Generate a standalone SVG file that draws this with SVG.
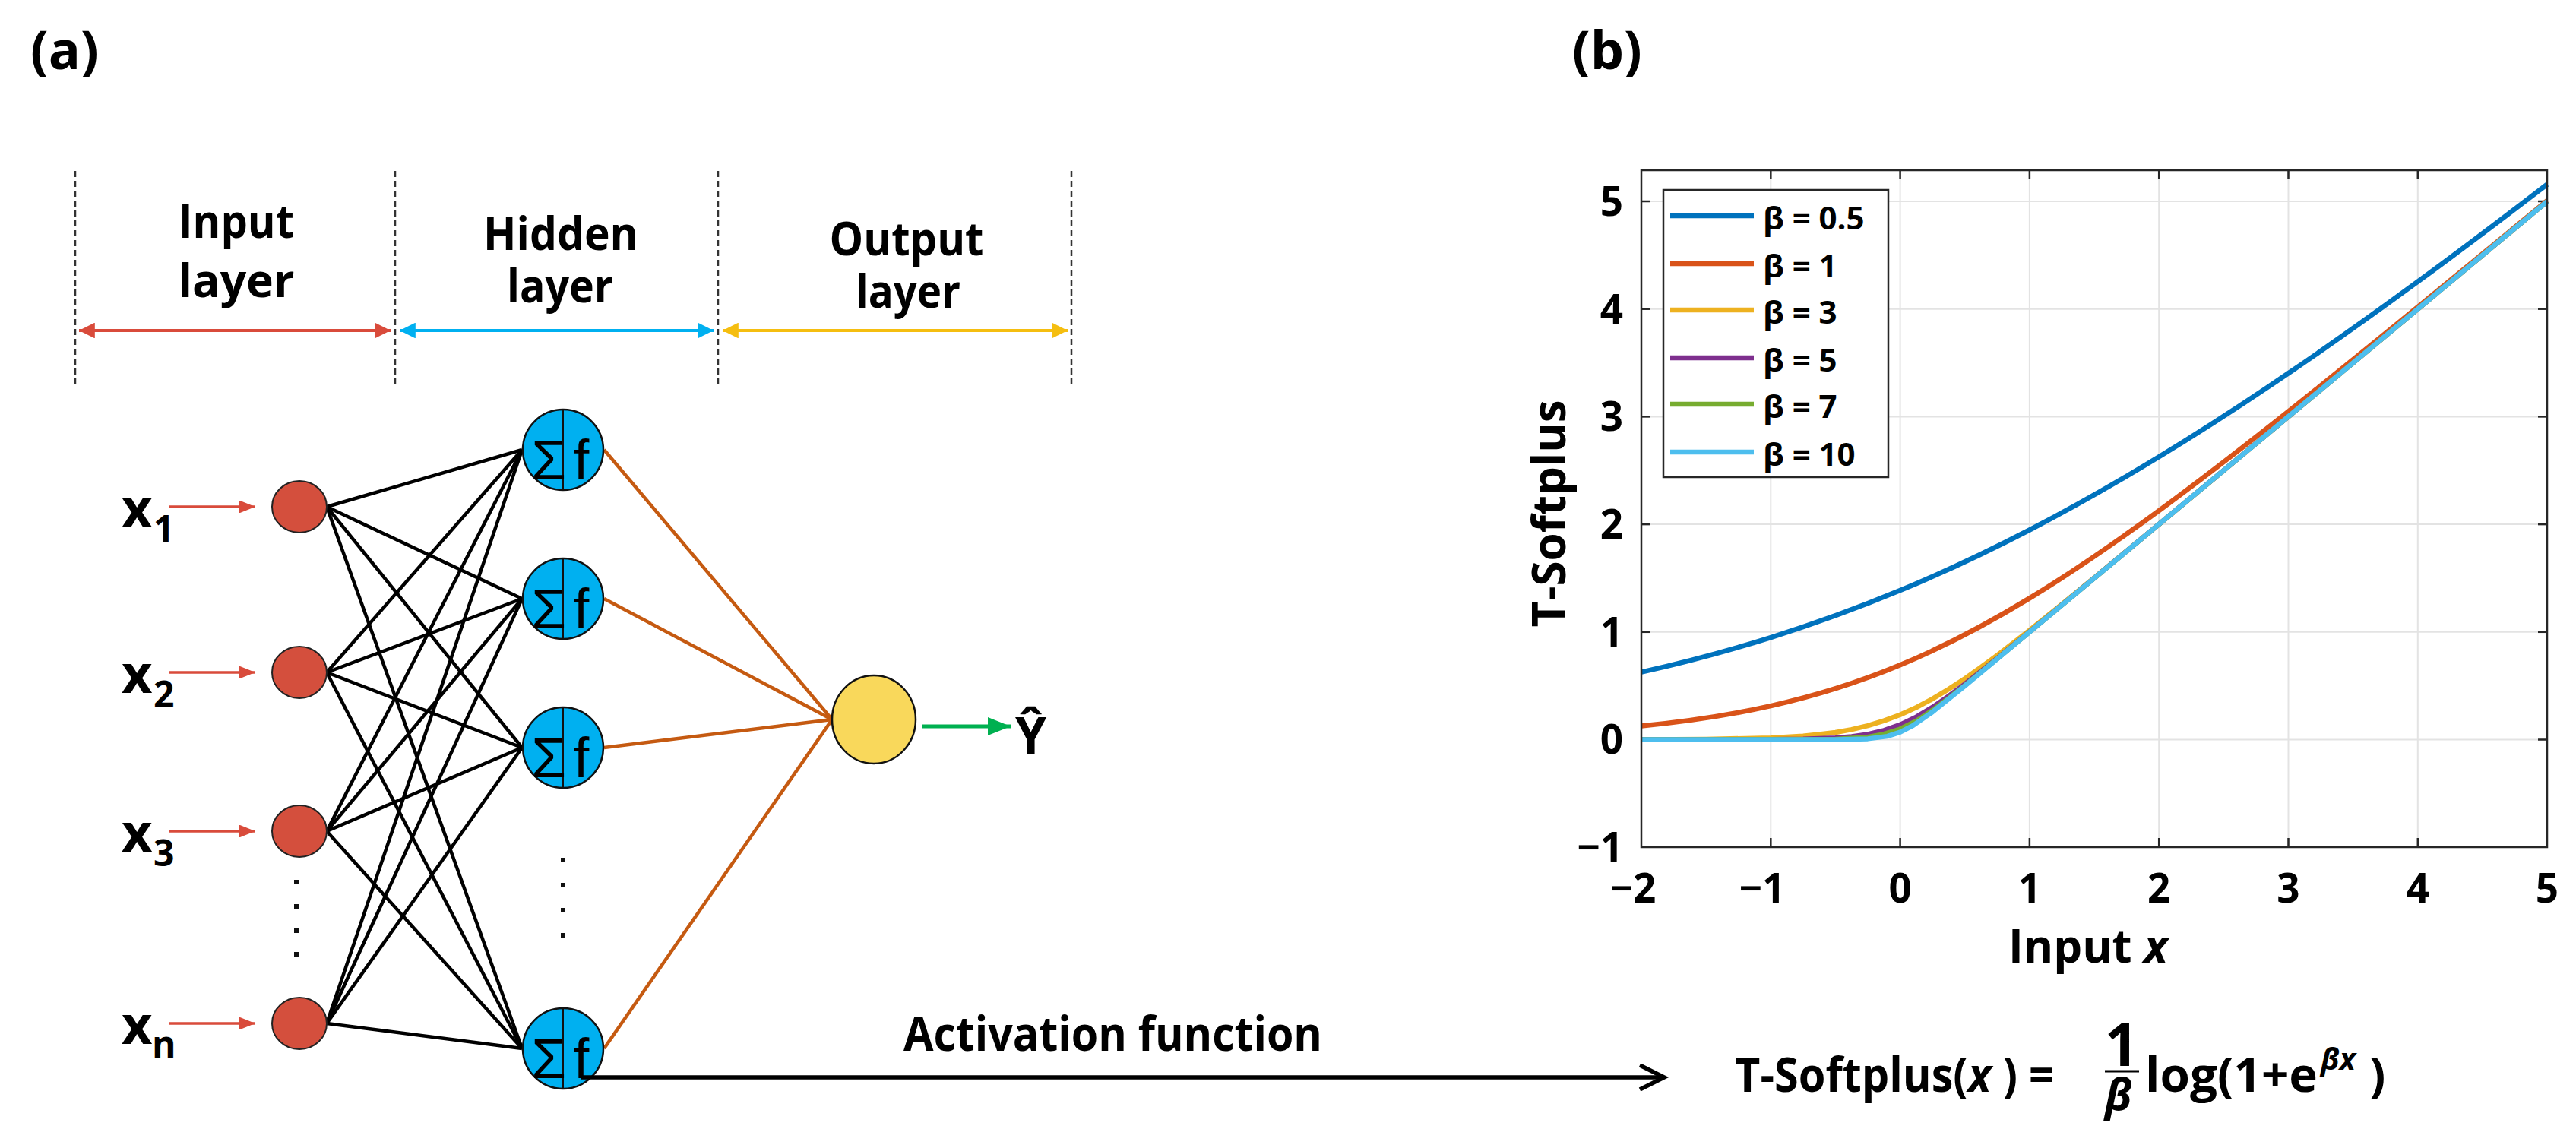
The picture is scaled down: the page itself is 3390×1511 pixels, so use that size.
<svg xmlns="http://www.w3.org/2000/svg" width="3390" height="1511" viewBox="0 0 3390 1511">
<style>
.b{font-family:"Open Sans","Noto Sans","DejaVu Sans",sans-serif;font-weight:bold;fill:#000}
.sym{font-family:"Liberation Sans",Arial,sans-serif;font-weight:normal;fill:#000}
.dash{stroke:#333;stroke-width:2.5;stroke-dasharray:8 5;fill:none}
.w{stroke:#000;stroke-width:4.5;fill:none}
.o{stroke:#C55A11;stroke-width:4.5;fill:none}
.inp{fill:#D44F3D;stroke:#222;stroke-width:2}
.hid{fill:#00B0F0;stroke:#111;stroke-width:2.5}
.grid{stroke:#e3e3e3;stroke-width:2;fill:none}
.ax{stroke:#262626;stroke-width:2.5;fill:none}
.tk{stroke:#262626;stroke-width:2.5}
.c{fill:none;stroke-width:6.5;stroke-linejoin:round;stroke-linecap:butt}
.tl{font-size:53px}
.lg{font-size:42px}
</style>
<defs>
<marker id="ar" viewBox="0 0 20 20" refX="20" refY="10" markerWidth="5.2" markerHeight="5.2" orient="auto-start-reverse" markerUnits="strokeWidth"><path d="M0,0 L20,10 L0,20 Z" fill="context-stroke"/></marker>
<marker id="as" viewBox="0 0 20 16" refX="20" refY="8" markerWidth="6" markerHeight="4.8" orient="auto" markerUnits="strokeWidth"><path d="M0,0 L20,8 L0,16 Z" fill="context-stroke"/></marker>
</defs>
<rect width="3390" height="1511" fill="#fff"/>

<!-- panel labels -->
<text class="b" x="40" y="91" font-size="70">(a)</text>
<text class="b" x="2069" y="91" font-size="70">(b)</text>

<!-- layer headers -->
<g id="layer-guides">
<line class="dash" x1="99" y1="225" x2="99" y2="506"/>
<line class="dash" x1="520" y1="225" x2="520" y2="506"/>
<line class="dash" x1="945" y1="225" x2="945" y2="506"/>
<line class="dash" x1="1410" y1="225" x2="1410" y2="506"/>
<line x1="104" y1="435" x2="514" y2="435" stroke="#D94B3B" stroke-width="4" marker-start="url(#ar)" marker-end="url(#ar)"/>
<line x1="526" y1="435" x2="939" y2="435" stroke="#00B0F0" stroke-width="4" marker-start="url(#ar)" marker-end="url(#ar)"/>
<line x1="951" y1="435" x2="1405" y2="435" stroke="#F5BE10" stroke-width="4" marker-start="url(#ar)" marker-end="url(#ar)"/>
<text class="b" font-size="60" text-anchor="middle"><tspan x="311" y="313" textLength="152" lengthAdjust="spacingAndGlyphs">Input</tspan><tspan x="311" y="391" textLength="153" lengthAdjust="spacingAndGlyphs">layer</tspan></text>
<text class="b" font-size="60" text-anchor="middle"><tspan x="738" y="329" textLength="204" lengthAdjust="spacingAndGlyphs">Hidden</tspan><tspan x="737" y="398" textLength="140" lengthAdjust="spacingAndGlyphs">layer</tspan></text>
<text class="b" font-size="60" text-anchor="middle"><tspan x="1193" y="336" textLength="203" lengthAdjust="spacingAndGlyphs">Output</tspan><tspan x="1195" y="405" textLength="138" lengthAdjust="spacingAndGlyphs">layer</tspan></text>
</g>

<!-- connectors -->
<g id="connectors">
<line class="w" x1="430" y1="667" x2="687" y2="592"/>
<line class="w" x1="430" y1="667" x2="687" y2="788"/>
<line class="w" x1="430" y1="667" x2="687" y2="984"/>
<line class="w" x1="430" y1="667" x2="687" y2="1380"/>
<line class="w" x1="430" y1="885" x2="687" y2="592"/>
<line class="w" x1="430" y1="885" x2="687" y2="788"/>
<line class="w" x1="430" y1="885" x2="687" y2="984"/>
<line class="w" x1="430" y1="885" x2="687" y2="1380"/>
<line class="w" x1="430" y1="1094" x2="687" y2="592"/>
<line class="w" x1="430" y1="1094" x2="687" y2="788"/>
<line class="w" x1="430" y1="1094" x2="687" y2="984"/>
<line class="w" x1="430" y1="1094" x2="687" y2="1380"/>
<line class="w" x1="430" y1="1347" x2="687" y2="592"/>
<line class="w" x1="430" y1="1347" x2="687" y2="788"/>
<line class="w" x1="430" y1="1347" x2="687" y2="984"/>
<line class="w" x1="430" y1="1347" x2="687" y2="1380"/>
<line class="o" x1="795" y1="592" x2="1095" y2="947"/>
<line class="o" x1="795" y1="788" x2="1095" y2="947"/>
<line class="o" x1="795" y1="984" x2="1095" y2="947"/>
<line class="o" x1="795" y1="1380" x2="1095" y2="947"/>
<line x1="222" y1="667" x2="336" y2="667" stroke="#D94B3B" stroke-width="3.5" marker-end="url(#as)"/>
<line x1="222" y1="885" x2="336" y2="885" stroke="#D94B3B" stroke-width="3.5" marker-end="url(#as)"/>
<line x1="222" y1="1094" x2="336" y2="1094" stroke="#D94B3B" stroke-width="3.5" marker-end="url(#as)"/>
<line x1="222" y1="1347" x2="336" y2="1347" stroke="#D94B3B" stroke-width="3.5" marker-end="url(#as)"/>
<line x1="1213" y1="956" x2="1330" y2="956" stroke="#00B050" stroke-width="5" marker-end="url(#as)"/>
</g>

<!-- input nodes -->
<g id="in1"><ellipse class="inp" cx="394" cy="667" rx="36" ry="34"/><text class="b" x="160" y="694" font-size="70">x</text><text class="b" x="202" y="713" font-size="48">1</text></g>
<g id="in2"><ellipse class="inp" cx="394" cy="885" rx="36" ry="34"/><text class="b" x="160" y="912" font-size="70">x</text><text class="b" x="202" y="931" font-size="48">2</text></g>
<g id="in3"><ellipse class="inp" cx="394" cy="1094" rx="36" ry="34"/><text class="b" x="160" y="1121" font-size="70">x</text><text class="b" x="202" y="1140" font-size="48">3</text></g>
<g id="inn"><ellipse class="inp" cx="394" cy="1347" rx="36" ry="34"/><text class="b" x="160" y="1374" font-size="70">x</text><text class="b" x="200" y="1392" font-size="48">n</text></g>
<g id="in-dots" fill="#111"><rect x="387" y="1158" width="6" height="6"/><rect x="387" y="1190" width="6" height="6"/><rect x="387" y="1222" width="6" height="6"/><rect x="387" y="1253" width="6" height="6"/></g>

<!-- hidden nodes -->
<g id="h1"><circle class="hid" cx="741" cy="592" r="53"/><line x1="741" y1="539" x2="741" y2="645" stroke="#111" stroke-width="2"/><text class="sym" x="722" y="631" font-size="74" text-anchor="middle">Σ</text><text class="sym" x="765" y="631" font-size="74" text-anchor="middle">f</text></g>
<g id="h2"><circle class="hid" cx="741" cy="788" r="53"/><line x1="741" y1="735" x2="741" y2="841" stroke="#111" stroke-width="2"/><text class="sym" x="722" y="827" font-size="74" text-anchor="middle">Σ</text><text class="sym" x="765" y="827" font-size="74" text-anchor="middle">f</text></g>
<g id="h3"><circle class="hid" cx="741" cy="984" r="53"/><line x1="741" y1="931" x2="741" y2="1037" stroke="#111" stroke-width="2"/><text class="sym" x="722" y="1023" font-size="74" text-anchor="middle">Σ</text><text class="sym" x="765" y="1023" font-size="74" text-anchor="middle">f</text></g>
<g id="hn"><circle class="hid" cx="741" cy="1380" r="53"/><line x1="741" y1="1327" x2="741" y2="1433" stroke="#111" stroke-width="2"/><text class="sym" x="722" y="1419" font-size="74" text-anchor="middle">Σ</text><text class="sym" x="765" y="1419" font-size="74" text-anchor="middle">f</text></g>
<g id="hid-dots" fill="#111"><rect x="738" y="1129" width="6" height="6"/><rect x="738" y="1162" width="6" height="6"/><rect x="738" y="1195" width="6" height="6"/><rect x="738" y="1228" width="6" height="6"/></g>

<!-- output node -->
<g id="out"><ellipse cx="1150" cy="947" rx="55" ry="58" fill="#F9D85B" stroke="#111" stroke-width="2.5"/><text class="b" x="1336" y="992" font-size="66">Ŷ</text></g>

<!-- activation arrow -->
<g id="activation">
<line x1="765" y1="1418" x2="2188" y2="1418" stroke="#000" stroke-width="5.5"/>
<polyline points="2158,1402 2190,1418 2158,1434" fill="none" stroke="#000" stroke-width="5.5"/>
<text class="b" x="1189" y="1383" font-size="62" textLength="551" lengthAdjust="spacingAndGlyphs">Activation function</text>
</g>

<!-- formula -->
<g id="formula">
<text class="b" x="2283" y="1437" font-size="63" textLength="420" lengthAdjust="spacingAndGlyphs">T-Softplus(<tspan font-style="italic">x</tspan> ) =</text>
<text class="b" text-anchor="middle"><tspan x="2792" y="1403" font-size="78">1</tspan><tspan x="2788" y="1461" font-size="58" font-style="italic">β</tspan></text>
<line x1="2770" y1="1410" x2="2815" y2="1410" stroke="#000" stroke-width="3"/>
<text class="b" font-size="63"><tspan x="2823" y="1437" textLength="227" lengthAdjust="spacingAndGlyphs">log(1+e</tspan><tspan x="3054" y="1408" font-size="40" font-style="italic">βx</tspan><tspan x="3118" y="1437">)</tspan></text>
</g>

<!-- plot -->
<g id="plot">
<g class="grid">
<line x1="2330.3" y1="224" x2="2330.3" y2="1115"/><line x1="2500.6" y1="224" x2="2500.6" y2="1115"/><line x1="2670.9" y1="224" x2="2670.9" y2="1115"/><line x1="2841.2" y1="224" x2="2841.2" y2="1115"/><line x1="3011.5" y1="224" x2="3011.5" y2="1115"/><line x1="3181.8" y1="224" x2="3181.8" y2="1115"/>
<line x1="2160" y1="973.5" x2="3352" y2="973.5"/><line x1="2160" y1="831.8" x2="3352" y2="831.8"/><line x1="2160" y1="690.1" x2="3352" y2="690.1"/><line x1="2160" y1="548.4" x2="3352" y2="548.4"/><line x1="2160" y1="406.7" x2="3352" y2="406.7"/><line x1="2160" y1="265" x2="3352" y2="265"/>
</g>
<g class="tk">
<line x1="2330.3" y1="1115" x2="2330.3" y2="1103"/><line x1="2500.6" y1="1115" x2="2500.6" y2="1103"/><line x1="2670.9" y1="1115" x2="2670.9" y2="1103"/><line x1="2841.2" y1="1115" x2="2841.2" y2="1103"/><line x1="3011.5" y1="1115" x2="3011.5" y2="1103"/><line x1="3181.8" y1="1115" x2="3181.8" y2="1103"/>
<line x1="2330.3" y1="224" x2="2330.3" y2="236"/><line x1="2500.6" y1="224" x2="2500.6" y2="236"/><line x1="2670.9" y1="224" x2="2670.9" y2="236"/><line x1="2841.2" y1="224" x2="2841.2" y2="236"/><line x1="3011.5" y1="224" x2="3011.5" y2="236"/><line x1="3181.8" y1="224" x2="3181.8" y2="236"/>
<line x1="2160" y1="973.5" x2="2172" y2="973.5"/><line x1="2160" y1="831.8" x2="2172" y2="831.8"/><line x1="2160" y1="690.1" x2="2172" y2="690.1"/><line x1="2160" y1="548.4" x2="2172" y2="548.4"/><line x1="2160" y1="406.7" x2="2172" y2="406.7"/><line x1="2160" y1="265" x2="2172" y2="265"/>
<line x1="3352" y1="973.5" x2="3340" y2="973.5"/><line x1="3352" y1="831.8" x2="3340" y2="831.8"/><line x1="3352" y1="690.1" x2="3340" y2="690.1"/><line x1="3352" y1="548.4" x2="3340" y2="548.4"/><line x1="3352" y1="406.7" x2="3340" y2="406.7"/><line x1="3352" y1="265" x2="3340" y2="265"/>
</g>
<path class="c" stroke="#0072BD" d="M2160,884.7 C2216.8,872 2273.5,856.9 2330.3,839.1 C2387.1,821.3 2443.8,800.7 2500.6,777.1 C2557.4,753.5 2614.1,726.9 2670.9,697.5 C2727.7,668.1 2784.4,635.8 2841.2,601.3 C2898,566.8 2954.7,529.9 3011.5,491.3 C3068.3,452.7 3125,412.3 3181.8,370.7 C3238.6,329.1 3295.3,286.2 3352.1,242.6"/>
<path class="c" stroke="#D95319" d="M2160,955.5 C2216.8,949.9 2273.5,941.8 2330.3,929.1 C2387.1,916.4 2443.8,898.9 2500.6,875.3 C2557.4,851.7 2614.1,821.9 2670.9,787.4 C2727.7,752.9 2784.4,713.7 2841.2,672.1 C2898,630.5 2954.7,586.5 3011.5,541.5 C3068.3,496.5 3125,450.5 3181.8,404.1 C3238.6,357.7 3295.3,311 3352.1,264.1"/>
<polyline class="c" stroke="#EDB120" points="2160,973.4 2245.2,973 2330.3,971.2 2372.9,968.8 2394.2,966.6 2415.5,964 2436.8,960.1 2458,955.2 2479.3,948.6 2500.6,940.8 2521.9,931.1 2543.2,919.8 2564.5,907 2585.8,893.1 2607,878.2 2628.3,862.5 2649.6,846.2 2670.9,829.5 2713.5,795.2 2756.1,760.4 2841.2,690 3352.1,265"/>
<polyline class="c" stroke="#7E2F8E" points="2160,973.5 2330.3,973.3 2372.9,972.8 2415.5,971.3 2436.8,969.4 2458,966.4 2479.3,961.3 2500.6,953.9 2521.9,943.6 2543.2,930.9 2564.5,916.2 2585.8,900.4 2628.3,866.6 2670.9,831.6 3352.1,265"/>
<polyline class="c" stroke="#77AC30" points="2160,973.5 2415.5,972.9 2458,970.3 2479.3,966.1 2500.6,959.5 2521.9,948.9 2543.2,934.8 2564.5,918.8 2585.8,902 2628.3,867.1 2670.9,831.8 3352.1,265"/>
<polyline class="c" stroke="#4DBEEE" points="2160,973.5 2415.5,973.4 2458,972.4 2483.6,969.1 2500.6,963.7 2517.6,954.9 2543.2,937 2585.8,902.6 2628.3,867.2 3352.1,265"/>
<rect class="ax" x="2160" y="224" width="1192" height="891"/>
<g class="b tl" text-anchor="end">
<text x="2136" y="1134">−1</text><text x="2136" y="992">0</text><text x="2136" y="851">1</text><text x="2136" y="709">2</text><text x="2136" y="567">3</text><text x="2136" y="426">4</text><text x="2136" y="284">5</text>
</g>
<g class="b tl" text-anchor="middle">
<text x="2149" y="1188">−2</text><text x="2319" y="1188">−1</text><text x="2500.6" y="1188">0</text><text x="2670.9" y="1188">1</text><text x="2841.2" y="1188">2</text><text x="3011.5" y="1188">3</text><text x="3181.8" y="1188">4</text><text x="3352" y="1188">5</text>
</g>
<text class="b" x="2748" y="1267" font-size="60" text-anchor="middle">Input <tspan font-style="italic">x</tspan></text>
<text class="b" font-size="60" text-anchor="middle" transform="translate(2060,676) rotate(-90)">T-Softplus</text>
<g id="legend">
<rect x="2189" y="250" width="296" height="378" fill="#fff" stroke="#262626" stroke-width="2.5"/>
<line x1="2198" y1="284" x2="2308" y2="284" stroke="#0072BD" stroke-width="6.5"/>
<line x1="2198" y1="347" x2="2308" y2="347" stroke="#D95319" stroke-width="6.5"/>
<line x1="2198" y1="408" x2="2308" y2="408" stroke="#EDB120" stroke-width="6.5"/>
<line x1="2198" y1="471" x2="2308" y2="471" stroke="#7E2F8E" stroke-width="6.5"/>
<line x1="2198" y1="532" x2="2308" y2="532" stroke="#77AC30" stroke-width="6.5"/>
<line x1="2198" y1="595" x2="2308" y2="595" stroke="#4DBEEE" stroke-width="6.5"/>
<g class="b lg">
<text x="2320" y="302">β = 0.5</text><text x="2320" y="365">β = 1</text><text x="2320" y="426">β = 3</text><text x="2320" y="489">β = 5</text><text x="2320" y="550">β = 7</text><text x="2320" y="613">β = 10</text>
</g>
</g>
</g>
</svg>
